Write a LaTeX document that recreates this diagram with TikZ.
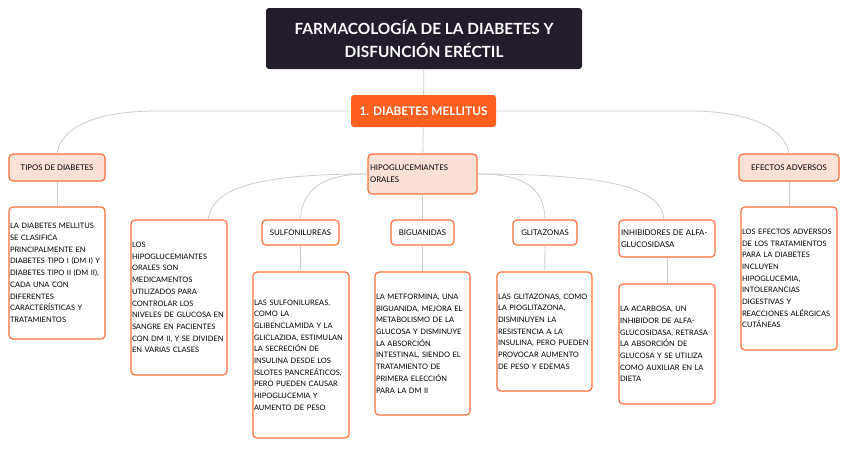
\documentclass[tikz,border=0pt]{standalone}
\usepackage{fontspec}
\setmainfont{Lato}
\definecolor{titledark}{HTML}{231C2B}
\definecolor{mainorange}{HTML}{FF5F1F}
\definecolor{lineorange}{HTML}{FF6E3C}
\definecolor{peach}{HTML}{FDE0D6}
\definecolor{linkgray}{HTML}{CCCCCC}

\begin{document}
\begin{tikzpicture}[x=1pt, y=-1pt,
    titlebox/.style={fill=titledark, rounded corners=3pt, text=white, align=center,
        font=\bfseries\fontsize{15.4}{23}\selectfont, minimum width=316pt, minimum height=61pt},
    mainbox/.style={fill=mainorange, rounded corners=3pt, text=white,
        font=\bfseries\fontsize{11.8}{14}\selectfont, minimum width=145pt, minimum height=32pt},
    topicbox/.style={fill=peach, draw=lineorange, line width=1.2pt, rounded corners=4pt,
        font=\fontsize{7.8}{11.7}\selectfont, inner sep=0pt},
    subbox/.style={fill=white, draw=lineorange, line width=1.2pt, rounded corners=4pt,
        font=\fontsize{7.8}{11.7}\selectfont, inner sep=0pt},
    descbox/.style={fill=white, draw=lineorange, line width=1.2pt, rounded corners=4pt,
        font=\fontsize{7.5}{11.7}\selectfont, align=left, inner xsep=1pt, inner ysep=2pt},
    link/.style={draw=linkgray, line width=0.8pt}]

\useasboundingbox (0,0) rectangle (848,448);

% Top of the map
\node[titlebox] (title) at (424,38.5) {FARMACOLOGÍA DE LA DIABETES Y\\DISFUNCIÓN ERÉCTIL};
\node[mainbox] (diabetes) at (423.5,111) {1. DIABETES MELLITUS};

% Topics
\node[topicbox, minimum width=96pt, minimum height=27pt] (tipos) at (57,167.5) {TIPOS DE DIABETES};
\node[topicbox, minimum width=109pt, minimum height=40pt, align=left, text width=105pt] (hipo) at (422.5,174) {HIPOGLUCEMIANTES\\ORALES};
\node[topicbox, minimum width=100pt, minimum height=27pt] (efectos) at (789,167.5) {EFECTOS ADVERSOS};

% Drug classes
\node[subbox, minimum width=77pt, minimum height=25pt] (sulf) at (300.5,232.5) {SULFONILUREAS};
\node[subbox, minimum width=63pt, minimum height=25pt] (bigu) at (422.5,232.5) {BIGUANIDAS};
\node[subbox, minimum width=64pt, minimum height=25pt] (glit) at (545,232.5) {GLITAZONAS};
\node[subbox, minimum width=96pt, minimum height=37pt, align=left, text width=92pt] (inhib) at (667,238.5) {INHIBIDORES DE ALFA-\\GLUCOSIDASA};

% Descriptions
\node[descbox, text width=94pt, minimum height=132pt] (tiposdesc) at (57,273) {LA DIABETES MELLITUS\\SE CLASIFICA\\PRINCIPALMENTE EN\\DIABETES TIPO I (DM I) Y\\DIABETES TIPO II (DM II),\\CADA UNA CON\\DIFERENTES\\CARACTERÍSTICAS Y\\TRATAMIENTOS};
\node[descbox, text width=94pt, minimum height=155pt] (hipodesc) at (179,297.5) {LOS\\HIPOGLUCEMIANTES\\ORALES SON\\MEDICAMENTOS\\UTILIZADOS PARA\\CONTROLAR LOS\\NIVELES DE GLUCOSA EN\\SANGRE EN PACIENTES\\CON DM II, Y SE DIVIDEN\\EN VARIAS CLASES};
\node[descbox, text width=94pt, minimum height=166pt] (sulfdesc) at (301,355) {LAS SULFONILUREAS,\\COMO LA\\GLIBENCLAMIDA Y LA\\GLICLAZIDA, ESTIMULAN\\LA SECRECIÓN DE\\INSULINA DESDE LOS\\ISLOTES PANCREÁTICOS,\\PERO PUEDEN CAUSAR\\HIPOGLUCEMIA Y\\AUMENTO DE PESO};
\node[descbox, text width=93pt, minimum height=143pt] (bigudesc) at (422.5,343.5) {LA METFORMINA, UNA\\BIGUANIDA, MEJORA EL\\METABOLISMO DE LA\\GLUCOSA Y DISMINUYE\\LA ABSORCIÓN\\INTESTINAL, SIENDO EL\\TRATAMIENTO DE\\PRIMERA ELECCIÓN\\PARA LA DM II};
\node[descbox, text width=93pt, minimum height=119pt] (glitdesc) at (544.5,331.5) {LAS GLITAZONAS, COMO\\LA PIOGLITAZONA,\\DISMINUYEN LA\\RESISTENCIA A LA\\INSULINA, PERO PUEDEN\\PROVOCAR AUMENTO\\DE PESO Y EDEMAS};
\node[descbox, text width=94pt, minimum height=120pt] (inhibdesc) at (667,344) {LA ACARBOSA, UN\\INHIBIDOR DE ALFA-\\GLUCOSIDASA, RETRASA\\LA ABSORCIÓN DE\\GLUCOSA Y SE UTILIZA\\COMO AUXILIAR EN LA\\DIETA};
\node[descbox, text width=94pt, minimum height=143pt] (efectosdesc) at (789,278.5) {LOS EFECTOS ADVERSOS\\DE LOS TRATAMIENTOS\\PARA LA DIABETES\\INCLUYEN\\HIPOGLUCEMIA,\\INTOLERANCIAS\\DIGESTIVAS Y\\REACCIONES ALÉRGICAS\\CUTÁNEAS};

% Free ends of curved links
\coordinate (hipodesctop) at (208,220);
\coordinate (inhibtop) at (664,220);

% Straight links
\draw[link] (title) -- (diabetes);
\draw[link] (diabetes) -- (hipo);
\draw[link] (hipo) -- (bigu);
\draw[link] (bigu) -- (bigudesc);
\draw[link] (tipos) -- (tiposdesc);
\draw[link] (sulf) -- (sulfdesc);
\draw[link] (glit) -- (glitdesc);
\draw[link] (inhib) -- (inhibdesc);
\draw[link] (efectos) -- (efectosdesc);

% Curved links
\draw[link] (diabetes.west) -- (157,111) .. controls (100,111) and (62,125) .. (tipos.north);
\draw[link] (diabetes.east) -- (690,111) .. controls (748,111) and (785,128) .. (efectos.north);
\draw[link] (hipo.west) .. controls (250,174) and (212,190) .. (hipodesctop);
\draw[link] (hipo.west) .. controls (325,174) and (302,188) .. (sulf.north);
\draw[link] (hipo.east) .. controls (525,174) and (544,188) .. (glit.north);
\draw[link] (hipo.east) .. controls (610,174) and (662,188) .. (inhibtop);

\end{tikzpicture}
\end{document}
